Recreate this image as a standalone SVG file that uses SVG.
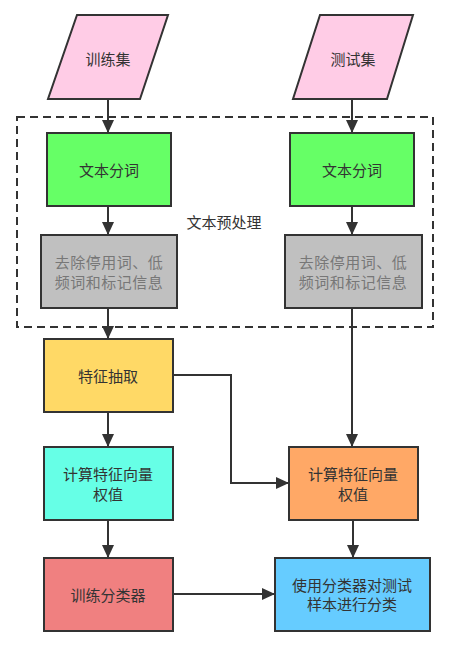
<svg xmlns="http://www.w3.org/2000/svg" width="453" height="653" viewBox="0 0 453 653">
<style>
.n{stroke:#333;stroke-width:2}
.t{font-family:"Noto Sans CJK SC","Noto Sans",sans-serif;font-size:15px;fill:#333;text-anchor:middle;dominant-baseline:central}
.tg{fill:#777;letter-spacing:0.5px}
.c{fill:none;stroke:#333;stroke-width:2}
</style>
<defs>
<marker id="ah" markerUnits="userSpaceOnUse" markerWidth="14" markerHeight="12" refX="13" refY="6" orient="auto">
<path d="M0,0 L13,6 L0,12 Z" fill="#333"/>
</marker>
</defs>
<rect width="453" height="653" fill="#fff"/>
<g id="group-preprocess">
<rect x="17" y="117" width="416" height="210" fill="none" stroke="#333" stroke-width="2" stroke-dasharray="8 5"/>
<text class="t" x="224" y="221">文本预处理</text>
</g>
<g id="connectors">
<path class="c" d="M108,99 V133" marker-end="url(#ah)"/>
<path class="c" d="M352,99 V133" marker-end="url(#ah)"/>
<path class="c" d="M108,206 V235" marker-end="url(#ah)"/>
<path class="c" d="M352,206 V235" marker-end="url(#ah)"/>
<path class="c" d="M108,308 V339" marker-end="url(#ah)"/>
<path class="c" d="M352,308 V447" marker-end="url(#ah)"/>
<path class="c" d="M173,375 H231 V483 H289" marker-end="url(#ah)"/>
<path class="c" d="M108,412 V447" marker-end="url(#ah)"/>
<path class="c" d="M108,520 V558" marker-end="url(#ah)"/>
<path class="c" d="M353,520 V558" marker-end="url(#ah)"/>
<path class="c" d="M173,594 H275" marker-end="url(#ah)"/>
</g>
<g id="train-set">
<polygon class="n" points="77,15 168,15 140,99 48,99" fill="#FFCCE6"/>
<text class="t" x="108" y="58">训练集</text>
</g>
<g id="test-set">
<polygon class="n" points="320,15 413,15 387,99 293,99" fill="#FFCCE6"/>
<text class="t" x="353" y="58">测试集</text>
</g>
<g id="seg-left">
<rect class="n" x="47" y="133" width="124" height="73" fill="#66FF66"/>
<text class="t" x="109" y="169">文本分词</text>
</g>
<g id="seg-right">
<rect class="n" x="290" y="133" width="124" height="73" fill="#66FF66"/>
<text class="t" x="352" y="169">文本分词</text>
</g>
<g id="clean-left">
<rect class="n" x="41" y="235" width="136" height="73" fill="#C0C0C0"/>
<text class="t tg" x="109" y="261">去除停用词、低</text>
<text class="t tg" x="109" y="281">频词和标记信息</text>
</g>
<g id="clean-right">
<rect class="n" x="285" y="235" width="137" height="73" fill="#C0C0C0"/>
<text class="t tg" x="353" y="261">去除停用词、低</text>
<text class="t tg" x="353" y="281">频词和标记信息</text>
</g>
<g id="feature-extract">
<rect class="n" x="44" y="339" width="129" height="73" fill="#FFD966"/>
<text class="t" x="108" y="375">特征抽取</text>
</g>
<g id="weight-left">
<rect class="n" x="44" y="447" width="129" height="73" fill="#66FFE6"/>
<text class="t" x="108" y="473">计算特征向量</text>
<text class="t" x="108" y="493">权值</text>
</g>
<g id="weight-right">
<rect class="n" x="289" y="447" width="129" height="73" fill="#FFA866"/>
<text class="t" x="353" y="473">计算特征向量</text>
<text class="t" x="353" y="493">权值</text>
</g>
<g id="train-classifier">
<rect class="n" x="44" y="558" width="129" height="73" fill="#F08080"/>
<text class="t" x="108" y="594">训练分类器</text>
</g>
<g id="classify">
<rect class="n" x="275" y="558" width="155" height="73" fill="#66CCFF"/>
<text class="t" x="352" y="584">使用分类器对测试</text>
<text class="t" x="352" y="603">样本进行分类</text>
</g>
</svg>
